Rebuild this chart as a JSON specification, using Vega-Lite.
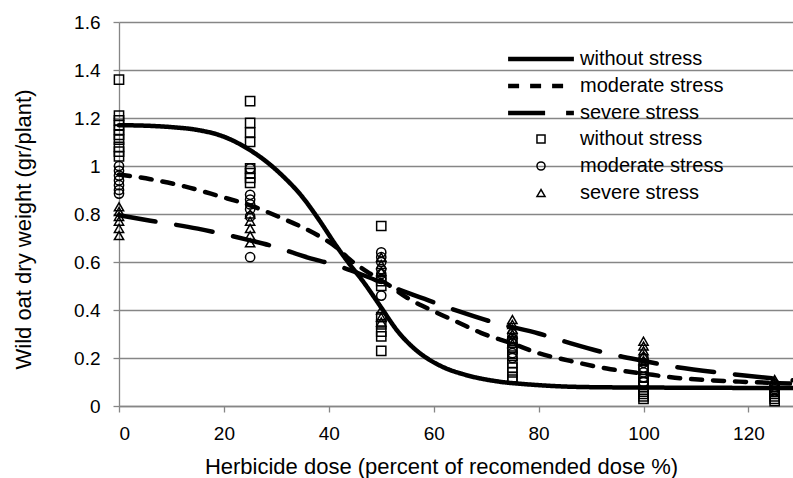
{
  "$schema": "https://vega.github.io/schema/vega-lite/v6.json",
  "width": 674,
  "height": 384,
  "autosize": {"type": "none"},
  "padding": {"left": 119, "top": 22, "right": 0, "bottom": 72},
  "background": "white",
  "config": {
    "view": {"stroke": null},
    "font": "Liberation Sans",
    "axis": {
      "domainColor": "#868686",
      "domainWidth": 1.3,
      "tickColor": "#868686",
      "tickWidth": 1.3,
      "tickSize": 6,
      "gridColor": "#868686",
      "gridWidth": 1.3,
      "labelFont": "Liberation Sans",
      "labelFontSize": 19,
      "labelColor": "#000000",
      "titleFont": "Liberation Sans",
      "titleFontWeight": "normal",
      "titleColor": "#000000"
    },
    "legend": {
      "labelFont": "Liberation Sans",
      "labelFontSize": 20,
      "labelColor": "#000000",
      "labelLimit": 400,
      "padding": 0,
      "rowPadding": 7
    }
  },
  "datasets": {
    "pts": [
      {"dose": 0, "weight": 1.36, "group": "without stress"},
      {"dose": 0, "weight": 1.21, "group": "without stress"},
      {"dose": 0, "weight": 1.19, "group": "without stress"},
      {"dose": 0, "weight": 1.17, "group": "without stress"},
      {"dose": 0, "weight": 1.15, "group": "without stress"},
      {"dose": 0, "weight": 1.13, "group": "without stress"},
      {"dose": 0, "weight": 1.11, "group": "without stress"},
      {"dose": 0, "weight": 1.08, "group": "without stress"},
      {"dose": 0, "weight": 1.06, "group": "without stress"},
      {"dose": 0, "weight": 1.04, "group": "without stress"},
      {"dose": 25, "weight": 1.27, "group": "without stress"},
      {"dose": 25, "weight": 1.18, "group": "without stress"},
      {"dose": 25, "weight": 1.14, "group": "without stress"},
      {"dose": 25, "weight": 1.10, "group": "without stress"},
      {"dose": 25, "weight": 0.99, "group": "without stress"},
      {"dose": 25, "weight": 0.97, "group": "without stress"},
      {"dose": 25, "weight": 0.95, "group": "without stress"},
      {"dose": 25, "weight": 0.93, "group": "without stress"},
      {"dose": 50, "weight": 0.75, "group": "without stress"},
      {"dose": 50, "weight": 0.52, "group": "without stress"},
      {"dose": 50, "weight": 0.50, "group": "without stress"},
      {"dose": 50, "weight": 0.37, "group": "without stress"},
      {"dose": 50, "weight": 0.34, "group": "without stress"},
      {"dose": 50, "weight": 0.31, "group": "without stress"},
      {"dose": 50, "weight": 0.29, "group": "without stress"},
      {"dose": 50, "weight": 0.23, "group": "without stress"},
      {"dose": 75, "weight": 0.27, "group": "without stress"},
      {"dose": 75, "weight": 0.24, "group": "without stress"},
      {"dose": 75, "weight": 0.21, "group": "without stress"},
      {"dose": 75, "weight": 0.18, "group": "without stress"},
      {"dose": 75, "weight": 0.16, "group": "without stress"},
      {"dose": 75, "weight": 0.14, "group": "without stress"},
      {"dose": 75, "weight": 0.12, "group": "without stress"},
      {"dose": 75, "weight": 0.11, "group": "without stress"},
      {"dose": 100, "weight": 0.15, "group": "without stress"},
      {"dose": 100, "weight": 0.12, "group": "without stress"},
      {"dose": 100, "weight": 0.10, "group": "without stress"},
      {"dose": 100, "weight": 0.08, "group": "without stress"},
      {"dose": 100, "weight": 0.06, "group": "without stress"},
      {"dose": 100, "weight": 0.05, "group": "without stress"},
      {"dose": 100, "weight": 0.04, "group": "without stress"},
      {"dose": 100, "weight": 0.03, "group": "without stress"},
      {"dose": 125, "weight": 0.08, "group": "without stress"},
      {"dose": 125, "weight": 0.06, "group": "without stress"},
      {"dose": 125, "weight": 0.05, "group": "without stress"},
      {"dose": 125, "weight": 0.04, "group": "without stress"},
      {"dose": 125, "weight": 0.03, "group": "without stress"},
      {"dose": 125, "weight": 0.02, "group": "without stress"},
      {"dose": 0, "weight": 1.00, "group": "moderate stress"},
      {"dose": 0, "weight": 0.98, "group": "moderate stress"},
      {"dose": 0, "weight": 0.96, "group": "moderate stress"},
      {"dose": 0, "weight": 0.94, "group": "moderate stress"},
      {"dose": 0, "weight": 0.92, "group": "moderate stress"},
      {"dose": 0, "weight": 0.90, "group": "moderate stress"},
      {"dose": 0, "weight": 0.885, "group": "moderate stress"},
      {"dose": 25, "weight": 0.99, "group": "moderate stress"},
      {"dose": 25, "weight": 0.88, "group": "moderate stress"},
      {"dose": 25, "weight": 0.86, "group": "moderate stress"},
      {"dose": 25, "weight": 0.84, "group": "moderate stress"},
      {"dose": 25, "weight": 0.82, "group": "moderate stress"},
      {"dose": 25, "weight": 0.79, "group": "moderate stress"},
      {"dose": 25, "weight": 0.62, "group": "moderate stress"},
      {"dose": 50, "weight": 0.64, "group": "moderate stress"},
      {"dose": 50, "weight": 0.62, "group": "moderate stress"},
      {"dose": 50, "weight": 0.60, "group": "moderate stress"},
      {"dose": 50, "weight": 0.57, "group": "moderate stress"},
      {"dose": 50, "weight": 0.55, "group": "moderate stress"},
      {"dose": 50, "weight": 0.53, "group": "moderate stress"},
      {"dose": 50, "weight": 0.46, "group": "moderate stress"},
      {"dose": 75, "weight": 0.30, "group": "moderate stress"},
      {"dose": 75, "weight": 0.28, "group": "moderate stress"},
      {"dose": 75, "weight": 0.26, "group": "moderate stress"},
      {"dose": 75, "weight": 0.24, "group": "moderate stress"},
      {"dose": 75, "weight": 0.22, "group": "moderate stress"},
      {"dose": 75, "weight": 0.20, "group": "moderate stress"},
      {"dose": 100, "weight": 0.20, "group": "moderate stress"},
      {"dose": 100, "weight": 0.18, "group": "moderate stress"},
      {"dose": 100, "weight": 0.16, "group": "moderate stress"},
      {"dose": 100, "weight": 0.14, "group": "moderate stress"},
      {"dose": 100, "weight": 0.12, "group": "moderate stress"},
      {"dose": 100, "weight": 0.10, "group": "moderate stress"},
      {"dose": 125, "weight": 0.09, "group": "moderate stress"},
      {"dose": 125, "weight": 0.08, "group": "moderate stress"},
      {"dose": 125, "weight": 0.07, "group": "moderate stress"},
      {"dose": 125, "weight": 0.06, "group": "moderate stress"},
      {"dose": 0, "weight": 0.83, "group": "severe stress"},
      {"dose": 0, "weight": 0.81, "group": "severe stress"},
      {"dose": 0, "weight": 0.79, "group": "severe stress"},
      {"dose": 0, "weight": 0.77, "group": "severe stress"},
      {"dose": 0, "weight": 0.74, "group": "severe stress"},
      {"dose": 0, "weight": 0.71, "group": "severe stress"},
      {"dose": 25, "weight": 0.80, "group": "severe stress"},
      {"dose": 25, "weight": 0.77, "group": "severe stress"},
      {"dose": 25, "weight": 0.74, "group": "severe stress"},
      {"dose": 25, "weight": 0.71, "group": "severe stress"},
      {"dose": 25, "weight": 0.68, "group": "severe stress"},
      {"dose": 50, "weight": 0.62, "group": "severe stress"},
      {"dose": 50, "weight": 0.59, "group": "severe stress"},
      {"dose": 50, "weight": 0.56, "group": "severe stress"},
      {"dose": 50, "weight": 0.40, "group": "severe stress"},
      {"dose": 50, "weight": 0.37, "group": "severe stress"},
      {"dose": 50, "weight": 0.35, "group": "severe stress"},
      {"dose": 75, "weight": 0.36, "group": "severe stress"},
      {"dose": 75, "weight": 0.34, "group": "severe stress"},
      {"dose": 75, "weight": 0.32, "group": "severe stress"},
      {"dose": 75, "weight": 0.30, "group": "severe stress"},
      {"dose": 75, "weight": 0.28, "group": "severe stress"},
      {"dose": 75, "weight": 0.26, "group": "severe stress"},
      {"dose": 100, "weight": 0.27, "group": "severe stress"},
      {"dose": 100, "weight": 0.25, "group": "severe stress"},
      {"dose": 100, "weight": 0.23, "group": "severe stress"},
      {"dose": 100, "weight": 0.21, "group": "severe stress"},
      {"dose": 100, "weight": 0.19, "group": "severe stress"},
      {"dose": 125, "weight": 0.11, "group": "severe stress"},
      {"dose": 125, "weight": 0.10, "group": "severe stress"},
      {"dose": 125, "weight": 0.09, "group": "severe stress"}
    ],
    "curves": [
      {"dose": 0, "weight": 1.17, "curve": "without stress (fit)"},
      {"dose": 5, "weight": 1.168, "curve": "without stress (fit)"},
      {"dose": 10, "weight": 1.162, "curve": "without stress (fit)"},
      {"dose": 15, "weight": 1.15, "curve": "without stress (fit)"},
      {"dose": 20, "weight": 1.122, "curve": "without stress (fit)"},
      {"dose": 25, "weight": 1.066, "curve": "without stress (fit)"},
      {"dose": 28, "weight": 1.02, "curve": "without stress (fit)"},
      {"dose": 31, "weight": 0.963, "curve": "without stress (fit)"},
      {"dose": 35, "weight": 0.87, "curve": "without stress (fit)"},
      {"dose": 38, "weight": 0.78, "curve": "without stress (fit)"},
      {"dose": 41.5, "weight": 0.665, "curve": "without stress (fit)"},
      {"dose": 44, "weight": 0.59, "curve": "without stress (fit)"},
      {"dose": 46.5, "weight": 0.52, "curve": "without stress (fit)"},
      {"dose": 50, "weight": 0.41, "curve": "without stress (fit)"},
      {"dose": 53, "weight": 0.315, "curve": "without stress (fit)"},
      {"dose": 56, "weight": 0.245, "curve": "without stress (fit)"},
      {"dose": 59, "weight": 0.195, "curve": "without stress (fit)"},
      {"dose": 62, "weight": 0.16, "curve": "without stress (fit)"},
      {"dose": 66, "weight": 0.13, "curve": "without stress (fit)"},
      {"dose": 72, "weight": 0.103, "curve": "without stress (fit)"},
      {"dose": 78, "weight": 0.09, "curve": "without stress (fit)"},
      {"dose": 84, "weight": 0.082, "curve": "without stress (fit)"},
      {"dose": 92, "weight": 0.078, "curve": "without stress (fit)"},
      {"dose": 100, "weight": 0.077, "curve": "without stress (fit)"},
      {"dose": 110, "weight": 0.076, "curve": "without stress (fit)"},
      {"dose": 128.5, "weight": 0.075, "curve": "without stress (fit)"},
      {"dose": 0, "weight": 0.965, "curve": "moderate stress (fit)"},
      {"dose": 6, "weight": 0.945, "curve": "moderate stress (fit)"},
      {"dose": 12.5, "weight": 0.915, "curve": "moderate stress (fit)"},
      {"dose": 19, "weight": 0.875, "curve": "moderate stress (fit)"},
      {"dose": 25, "weight": 0.836, "curve": "moderate stress (fit)"},
      {"dose": 31, "weight": 0.783, "curve": "moderate stress (fit)"},
      {"dose": 38, "weight": 0.71, "curve": "moderate stress (fit)"},
      {"dose": 41.5, "weight": 0.66, "curve": "moderate stress (fit)"},
      {"dose": 44, "weight": 0.61, "curve": "moderate stress (fit)"},
      {"dose": 48, "weight": 0.55, "curve": "moderate stress (fit)"},
      {"dose": 51, "weight": 0.51, "curve": "moderate stress (fit)"},
      {"dose": 55, "weight": 0.45, "curve": "moderate stress (fit)"},
      {"dose": 60, "weight": 0.395, "curve": "moderate stress (fit)"},
      {"dose": 65, "weight": 0.345, "curve": "moderate stress (fit)"},
      {"dose": 69, "weight": 0.305, "curve": "moderate stress (fit)"},
      {"dose": 75, "weight": 0.26, "curve": "moderate stress (fit)"},
      {"dose": 80, "weight": 0.22, "curve": "moderate stress (fit)"},
      {"dose": 86, "weight": 0.188, "curve": "moderate stress (fit)"},
      {"dose": 93, "weight": 0.156, "curve": "moderate stress (fit)"},
      {"dose": 100, "weight": 0.135, "curve": "moderate stress (fit)"},
      {"dose": 106, "weight": 0.118, "curve": "moderate stress (fit)"},
      {"dose": 112, "weight": 0.108, "curve": "moderate stress (fit)"},
      {"dose": 120, "weight": 0.1, "curve": "moderate stress (fit)"},
      {"dose": 128.5, "weight": 0.093, "curve": "moderate stress (fit)"},
      {"dose": 0, "weight": 0.795, "curve": "severe stress (fit)"},
      {"dose": 6, "weight": 0.772, "curve": "severe stress (fit)"},
      {"dose": 15, "weight": 0.739, "curve": "severe stress (fit)"},
      {"dose": 25, "weight": 0.69, "curve": "severe stress (fit)"},
      {"dose": 29, "weight": 0.668, "curve": "severe stress (fit)"},
      {"dose": 36.5, "weight": 0.615, "curve": "severe stress (fit)"},
      {"dose": 40.5, "weight": 0.592, "curve": "severe stress (fit)"},
      {"dose": 46, "weight": 0.55, "curve": "severe stress (fit)"},
      {"dose": 50, "weight": 0.515, "curve": "severe stress (fit)"},
      {"dose": 53, "weight": 0.488, "curve": "severe stress (fit)"},
      {"dose": 59, "weight": 0.44, "curve": "severe stress (fit)"},
      {"dose": 65, "weight": 0.393, "curve": "severe stress (fit)"},
      {"dose": 72, "weight": 0.345, "curve": "severe stress (fit)"},
      {"dose": 80, "weight": 0.302, "curve": "severe stress (fit)"},
      {"dose": 86, "weight": 0.262, "curve": "severe stress (fit)"},
      {"dose": 93, "weight": 0.22, "curve": "severe stress (fit)"},
      {"dose": 100, "weight": 0.188, "curve": "severe stress (fit)"},
      {"dose": 106, "weight": 0.163, "curve": "severe stress (fit)"},
      {"dose": 116.5, "weight": 0.134, "curve": "severe stress (fit)"},
      {"dose": 128.5, "weight": 0.107, "curve": "severe stress (fit)"}
    ]
  },
  "encoding": {
    "x": {
      "field": "dose",
      "type": "quantitative",
      "scale": {"domain": [0, 128.5], "nice": false, "zero": false},
      "axis": {
        "values": [0, 20, 40, 60, 80, 100, 120],
        "grid": false,
        "labelPadding": 12,
        "title": "Herbicide dose (percent of recomended dose %)",
        "titleFontSize": 22,
        "titleX": 322,
        "titleY": 60,
        "titleAlign": "center",
        "titleBaseline": "middle"
      }
    },
    "y": {
      "field": "weight",
      "type": "quantitative",
      "scale": {"domain": [0, 1.6], "nice": false},
      "axis": {
        "values": [0, 0.2, 0.4, 0.6, 0.8, 1, 1.2, 1.4, 1.6],
        "format": "~g",
        "grid": true,
        "labelPadding": 13,
        "title": "Wild oat dry weight (gr/plant)",
        "titleFontSize": 22,
        "titleAngle": 270,
        "titleX": -96,
        "titleY": 207,
        "titleAlign": "center",
        "titleBaseline": "middle"
      }
    }
  },
  "layer": [
    {
      "data": {"name": "pts"},
      "mark": {"type": "point", "filled": false, "color": "black", "strokeWidth": 1.5, "size": 85, "opacity": 1},
      "encoding": {
        "shape": {
          "field": "group",
          "type": "nominal",
          "scale": {"domain": ["without stress", "moderate stress", "severe stress"], "range": ["square", "circle", "triangle-up"]},
          "legend": {
            "title": null,
            "orient": "none",
            "legendX": 412,
            "legendY": 107,
            "symbolSize": 65,
            "symbolStrokeColor": "black",
            "symbolStrokeWidth": 1.5,
            "labelOffset": 29
          }
        }
      }
    },
    {
      "data": {"name": "curves"},
      "mark": {"type": "line", "color": "black", "strokeWidth": 4.5, "interpolate": "monotone", "strokeCap": "round"},
      "encoding": {
        "strokeDash": {
          "field": "curve",
          "type": "nominal",
          "scale": {"domain": ["without stress (fit)", "moderate stress (fit)", "severe stress (fit)"], "range": [[1, 0], [11, 11], [37, 21]]},
          "legend": {
            "title": null,
            "orient": "none",
            "legendX": 412,
            "legendY": 27,
            "symbolType": "M-4.7,0H4.7",
            "symbolSize": 196,
            "symbolStrokeColor": "black",
            "symbolStrokeWidth": 4.5,
            "labelOffset": 29,
            "labelExpr": "replace(datum.label, ' (fit)', '')"
          }
        }
      }
    }
  ]
}
